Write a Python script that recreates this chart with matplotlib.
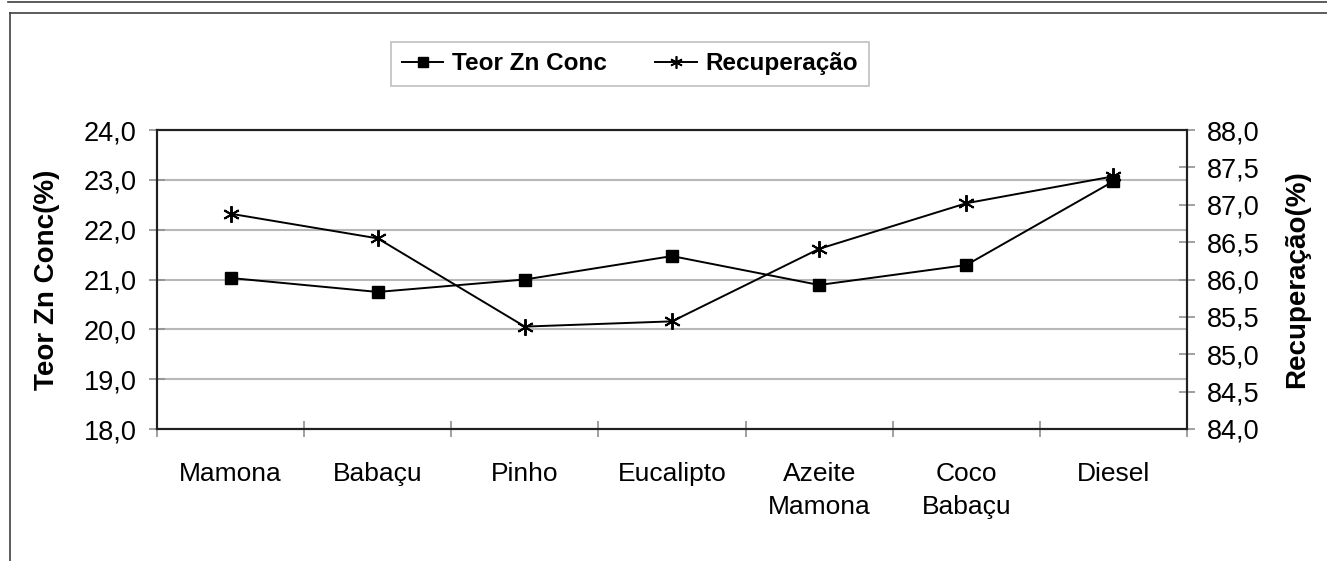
import numpy as np
import matplotlib
matplotlib.use("Agg")
import matplotlib.pyplot as plt
from matplotlib.lines import Line2D
from matplotlib.ticker import FuncFormatter, FixedLocator

plt.rcParams.update({
    "font.family": ["Liberation Sans", "DejaVu Sans"],
    "axes.unicode_minus": False,
})

# data
categorias = ["Mamona", "Babaçu", "Pinho", "Eucalipto", "Azeite\nMamona", "Coco\nBabaçu", "Diesel"]
teor_zn = [21.03, 20.75, 21.00, 21.47, 20.89, 21.29, 22.97]
recuperacao = [86.88, 86.55, 85.37, 85.44, 86.41, 87.02, 87.38]
left_ticks = [18, 19, 20, 21, 22, 23, 24]
right_ticks = [84.0, 84.5, 85.0, 85.5, 86.0, 86.5, 87.0, 87.5, 88.0]

W, H = 1327, 561
fig = plt.figure(figsize=(W / 100, H / 100), dpi=100)

# outer frame lines like the source document
border = "#404040"
fig.add_artist(Line2D([8 / W, 1], [1 - 2 / H, 1 - 2 / H], transform=fig.transFigure, color=border, lw=1.2))
fig.add_artist(Line2D([10 / W, 1], [1 - 13 / H, 1 - 13 / H], transform=fig.transFigure, color=border, lw=1.2))
fig.add_artist(Line2D([10 / W, 10 / W], [0, 1 - 13 / H], transform=fig.transFigure, color=border, lw=1.2))

ax = fig.add_axes([157 / W, 1 - 429 / H, 1030 / W, 299 / H])
ax2 = ax.twinx()

x = np.arange(len(categorias))
comma = FuncFormatter(lambda v, p: f"{v:.1f}".replace(".", ","))

ax.plot(x, teor_zn, color="black", lw=1.4, marker="s", ms=8, zorder=3)
ax2.plot(x, recuperacao, color="black", lw=1.4, marker=(6, 2, 0), ms=12, mew=1.4, zorder=3)

ax.set_xlim(-0.5, len(categorias) - 0.5)
ax.set_ylim(18, 24)
ax2.set_ylim(84, 88)
ax.set_yticks(left_ticks)
ax2.set_yticks(right_ticks)
ax.yaxis.set_major_formatter(comma)
ax2.yaxis.set_major_formatter(comma)

ax.set_xticks(x)
ax.set_xticklabels(categorias, fontsize=19, linespacing=1.45, va="top")
ax.xaxis.set_minor_locator(FixedLocator(np.arange(-0.5, len(categorias), 1.0)))
ax.tick_params(axis="x", which="major", length=0, pad=24)
ax.tick_params(axis="x", which="minor", direction="inout", length=12, color="#909090", width=1.2)
ax.tick_params(axis="y", direction="inout", length=11, color="#909090", width=1.2, labelsize=19.5, pad=9)
ax2.tick_params(axis="y", direction="inout", length=11, color="#909090", width=1.2, labelsize=19.5, pad=9)

ax.grid(axis="y", color="#b8b8b8", lw=1.5)
ax.set_axisbelow(True)
for a in (ax, ax2):
    for s in a.spines.values():
        s.set_linewidth(1.5)
        s.set_color("#202020")

ax.set_ylabel("Teor Zn Conc(%)", fontsize=20, fontweight="bold")
ax2.set_ylabel("Recuperação(%)", fontsize=20, fontweight="bold")
ax.yaxis.set_label_coords(-0.094, 0.5)
ax2.yaxis.set_label_coords(1.094, 0.5)

handles = [
    Line2D([], [], color="black", lw=1.4, marker="s", ms=7, label="Teor Zn Conc"),
    Line2D([], [], color="black", lw=1.4, marker=(6, 2, 0), ms=9, mew=1.2, label="Recuperação"),
]
leg = fig.legend(handles=handles, loc="center", bbox_to_anchor=(630 / W, 1 - 64 / H), ncol=2,
                 prop={"size": 17.5, "weight": "bold"}, frameon=True, fancybox=False,
                 edgecolor="#b0b0b0", handlelength=1.7, handletextpad=0.35,
                 columnspacing=2.0, borderpad=0.45)
leg.get_frame().set_linewidth(1.2)

fig.savefig("out.png", dpi=100)
